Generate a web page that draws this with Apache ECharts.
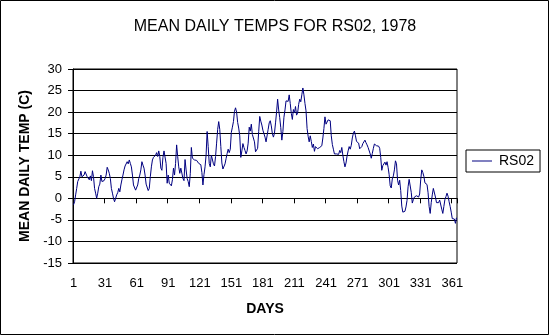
<!DOCTYPE html>
<html>
<head>
<meta charset="utf-8">
<script src="https://cdn.jsdelivr.net/npm/echarts@6/dist/echarts.min.js"></script>
<style>
html,body{margin:0;padding:0;background:#fff;}
#chart{width:550px;height:336px;}
</style>
</head>
<body>
<div id="chart"></div>
<script>
// Mean daily temperature (C), days 1..365
var temps = [
 -1.5,-0.8,0.8,2.3,3.9,4.1,5.0,6.3,5.0,4.6,
 5.4,6.2,5.8,5.0,5.4,4.3,5.2,4.1,6.4,5.0,
 2.3,1.2,0.0,1.2,2.7,3.3,5.4,3.9,4.3,4.1,
 4.6,5.4,7.2,6.6,5.8,4.6,2.3,1.2,0.0,-0.8,
 -0.6,0.8,1.3,2.3,1.5,3.1,4.3,5.4,6.6,7.5,
 7.7,8.5,8.0,8.9,8.1,7.3,5.4,3.1,2.7,1.9,
 2.3,3.1,4.6,5.4,6.6,8.5,7.7,7.0,5.4,3.3,
 2.9,1.8,2.3,5.0,7.3,8.9,9.5,9.8,10.0,10.6,
 9.7,11.0,9.7,7.0,6.5,9.5,11.0,11.4,8.1,3.5,
 5.4,3.5,3.3,2.9,4.3,7.0,5.4,8.1,12.4,9.7,
 7.3,5.8,7.0,6.6,4.6,4.1,9.0,6.6,4.6,3.9,
 2.7,5.8,11.8,9.3,9.2,8.9,8.5,8.8,8.5,8.1,
 8.5,7.8,6.0,3.1,5.5,7.3,10.0,15.5,12.0,8.1,
 7.3,10.0,10.2,8.0,7.5,9.7,12.8,16.0,17.8,16.0,
 12.0,8.2,6.8,7.0,8.0,9.2,10.4,11.4,10.6,11.4,
 15.3,16.5,17.8,20.2,21.0,20.0,17.6,16.3,14.5,9.5,
 11.0,12.7,11.8,11.1,10.3,11.0,12.8,16.5,15.6,17.2,
 14.8,15.2,13.1,10.8,10.5,11.6,15.5,19.0,17.9,17.0,
 15.8,15.0,14.2,13.1,13.5,16.0,17.5,18.0,16.8,15.0,
 14.2,15.1,17.5,20.0,23.0,20.5,18.7,16.4,13.5,15.5,
 18.8,20.5,22.6,22.2,22.5,24.0,22.0,19.7,18.3,20.6,
 19.8,21.3,19.3,19.8,21.8,23.0,22.4,24.0,25.6,24.0,
 22.0,20.3,16.2,14.4,13.1,14.5,13.2,11.8,12.6,10.9,
 12.0,12.2,11.5,11.4,11.8,11.4,12.2,14.0,16.2,18.9,
 17.2,17.6,18.2,17.8,18.0,14.5,12.5,11.4,10.3,10.0,
 10.3,10.3,10.2,11.1,10.6,11.8,10.0,8.5,7.3,8.2,
 9.8,11.0,12.0,11.4,12.3,14.0,15.1,15.6,14.5,13.2,
 13.3,12.8,11.5,11.5,12.0,12.7,13.1,13.5,12.9,12.4,
 11.8,11.4,10.3,9.3,10.4,11.6,12.6,12.5,12.2,12.1,
 12.1,11.6,9.5,6.5,7.6,7.4,8.4,7.7,8.5,7.2,
 5.5,2.9,2.4,4.5,5.2,6.6,8.7,8.0,4.2,3.1,
 4.2,1.8,-1.8,-3.2,-3.3,-3.0,-2.0,-0.5,2.7,4.4,
 4.1,1.4,-1.1,-0.3,0.3,0.6,0.6,0.7,0.3,1.0,
 4.3,6.6,6.0,5.1,3.6,3.8,3.2,1.3,-1.9,-3.5,
 -1.0,0.8,2.3,2.0,0.3,-1.0,-0.7,-1.0,-0.4,-0.6,
 -2.5,-3.5,-1.9,-0.3,0.4,1.2,0.5,-0.8,-1.9,-3.2,
 -4.7,-5.0,-4.8,-5.8,-4.5
];
var days = [];
for (var i = 1; i <= temps.length; i++) days.push(String(i));
var yTicks = { min: -15, max: 30, step: 5 };
var labelEvery = 30;

var FONT = '"Liberation Sans", Arial, sans-serif';
var chart = echarts.init(document.getElementById('chart'), null, {renderer: 'canvas'});
function showIdx(i) { return i % labelEvery === 0; }
chart.setOption({
  animation: false,
  backgroundColor: '#fff',
  textStyle: { fontFamily: FONT, color: '#000' },
  graphic: [{
    type: 'rect', silent: true,
    shape: { x: 0.5, y: 0.5, width: 548, height: 334 },
    style: { fill: 'none', stroke: '#000', lineWidth: 1 }
  }],
  title: {
    text: 'MEAN DAILY TEMPS FOR RS02, 1978',
    left: 'center', top: 19, padding: 0,
    textStyle: { fontFamily: FONT, fontSize: 16, fontWeight: 'normal', color: '#000' }
  },
  legend: {
    data: [{ name: 'RS02', icon: 'rect' }], left: 466, top: 150, orient: 'vertical',
    borderColor: '#000', borderWidth: 1, padding: [4, 6, 4, 6],
    itemWidth: 20, itemHeight: 1, itemGap: 5,
    textStyle: { fontFamily: FONT, fontSize: 14, color: '#000', padding: [0, 0, 0, 2] }
  },
  grid: {
    left: 73, top: 69, width: 384, height: 194,
    show: true, borderColor: '#000', borderWidth: 1, backgroundColor: '#fff'
  },
  xAxis: {
    type: 'category', data: days, boundaryGap: true,
    axisLine: { lineStyle: { color: '#000', width: 1 } },
    axisTick: { show: true, interval: function (i) { return showIdx(i); }, length: 5, lineStyle: { color: '#000' } },
    axisLabel: { interval: function (i) { return showIdx(i); }, margin: 14, fontSize: 13, color: '#000', fontFamily: FONT },
    splitLine: { show: false },
    name: 'DAYS', nameLocation: 'middle', nameGap: 39,
    nameTextStyle: { fontFamily: FONT, fontSize: 14, fontWeight: 'bold', color: '#000' }
  },
  yAxis: {
    type: 'value', min: yTicks.min, max: yTicks.max, interval: yTicks.step,
    axisLine: { show: true, lineStyle: { color: '#000', width: 1 } },
    axisTick: { show: true, length: 5, lineStyle: { color: '#000' } },
    axisLabel: { margin: 11, fontSize: 13, color: '#000', fontFamily: FONT },
    splitLine: { show: true, lineStyle: { color: '#000', width: 1 } },
    name: 'MEAN DAILY TEMP (C)', nameLocation: 'middle', nameGap: 31,
    nameTextStyle: { fontFamily: FONT, fontSize: 14, fontWeight: 'bold', color: '#000' }
  },
  series: [{
    name: 'RS02', type: 'line', data: temps,
    symbol: 'none', showSymbol: false,
    lineStyle: { color: '#000080', width: 1 },
    itemStyle: { color: '#000080' }
  }]
});
</script>
</body>
</html>
